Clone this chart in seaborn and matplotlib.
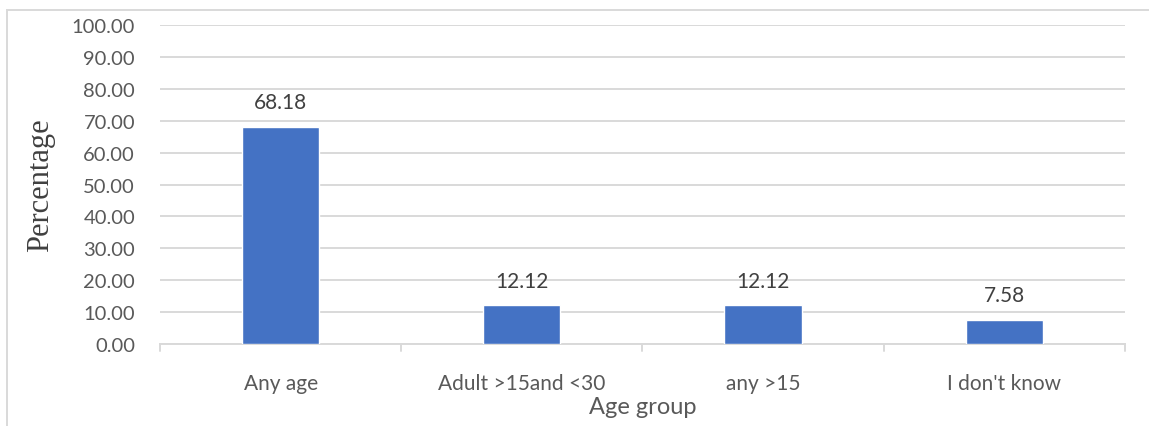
import matplotlib
matplotlib.use("Agg")
import matplotlib.pyplot as plt
import seaborn as sns
import pandas as pd
from matplotlib.patches import Rectangle

categories = ["Any age", "Adult >15and <30", "any >15", "I don't know"]
percentages = [68.18, 12.12, 12.12, 7.58]
y_ticks = [0, 10, 20, 30, 40, 50, 60, 70, 80, 90, 100]

sns.set_theme(style="white")
plt.rcParams["font.family"] = ["Lato", "DejaVu Sans"]

df = pd.DataFrame({"group": categories, "pct": percentages})

fig = plt.figure(figsize=(11.49, 4.27), dpi=100)
ax = fig.add_axes([0.1393, 0.192, 0.979 - 0.1393, 0.939 - 0.192])

sns.barplot(data=df, x="group", y="pct", color="#4472C4", width=0.32,
            saturation=1, ax=ax, zorder=3)

ax.set_ylim(0, 100)
ax.set_xlim(-0.5, len(categories) - 0.5)
ax.set_yticks(y_ticks)
ax.set_yticklabels([f"{t:.2f}" for t in y_ticks], fontsize=14.5, color="#595959")
ax.tick_params(axis="y", length=0, pad=18)
ax.grid(axis="y", color="#d9d9d9", linewidth=1.4, zorder=0)
ax.set_axisbelow(True)

# category labels, with separator ticks between groups on the baseline
ax.set_xticks(range(len(categories)))
ax.set_xticklabels(categories, fontsize=15, color="#595959")
ax.tick_params(axis="x", length=0, pad=21)
for b in [i - 0.5 for i in range(len(categories) + 1)]:
    ax.plot([b, b], [0, -2.2], color="#d9d9d9", linewidth=1.4,
            clip_on=False, zorder=2)

for s in ["top", "right", "left"]:
    ax.spines[s].set_visible(False)
ax.spines["bottom"].set_color("#d9d9d9")
ax.spines["bottom"].set_linewidth(1.4)

for i, v in enumerate(percentages):
    ax.text(i, v + 4.5, f"{v:.2f}", ha="center", va="bottom",
            fontsize=15, color="#404040")

ax.set_xlabel("Age group", fontsize=17, color="#595959", labelpad=2)
ax.set_ylabel("Percentage", fontsize=22, color="#404040",
              family="Liberation Serif", labelpad=12)

# light frame around the chart area
fig.patches.append(Rectangle((7 / 1149, -0.1), 1.2, 1 - 11 / 427 + 0.1,
                             transform=fig.transFigure, fill=False,
                             edgecolor="#d9d9d9", linewidth=1.4))

fig.savefig("out.png", dpi=100)
